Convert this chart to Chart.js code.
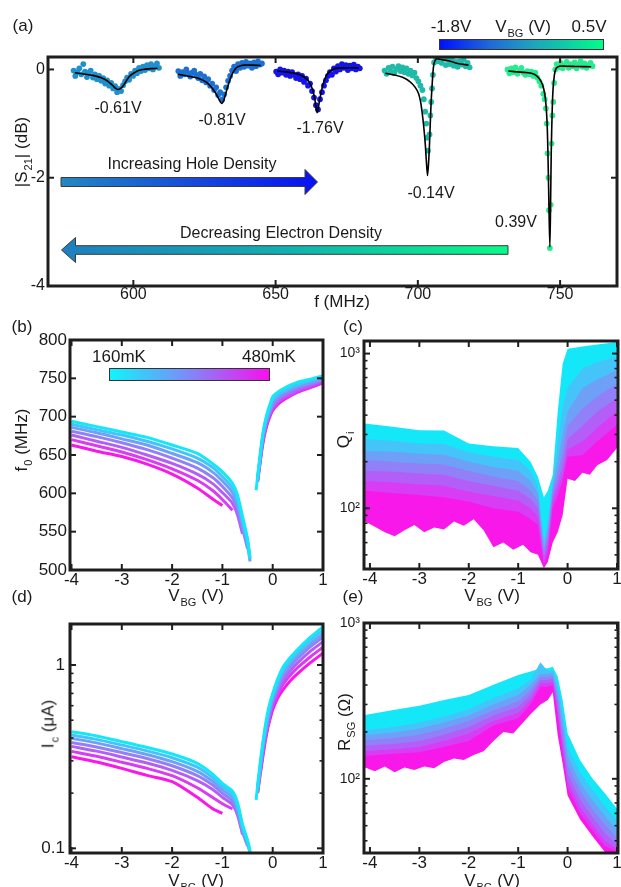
<!DOCTYPE html>
<html>
<head>
<meta charset="utf-8">
<script src="https://cdn.jsdelivr.net/npm/chart.js@4.4.1/dist/chart.umd.min.js"></script>
<style>
  html, body { margin: 0; padding: 0; background: #fff; }
  body { width: 621px; height: 887px; position: relative; overflow: hidden;
         font-family: 'Liberation Sans', Arial, sans-serif; color: #1a1a1a; }
  canvas.layer { position: absolute; left: 0; top: 0; }
  .t { position: absolute; white-space: nowrap; font-size: 17px; line-height: 1;
       transform: translate(-50%, -50%); }
  .rot { transform: translate(-50%, -50%) rotate(-90deg); }
  .sb { font-size: 11px; position: relative; top: 5px; margin-left: 1px; }
  .bar { position: absolute; box-sizing: border-box; border: 1px solid #333; }
</style>
</head>
<body>
<canvas id="pa" class="layer" width="621" height="887"></canvas>
<canvas id="pb" class="layer" width="621" height="887"></canvas>
<canvas id="pc" class="layer" width="621" height="887"></canvas>
<canvas id="pd" class="layer" width="621" height="887"></canvas>
<canvas id="pe" class="layer" width="621" height="887"></canvas>

<!-- colour bars -->
<div class="bar" style="left:439px;top:39px;width:165px;height:11px;
  background:linear-gradient(to right,#0010ff 0%,#2068d8 30%,#1f9fbf 55%,#10c8a8 75%,#00ff88 100%);"></div>
<div class="bar" style="left:109px;top:368px;width:161px;height:13px;
  background:linear-gradient(to right,#10f4fa 0%,#8088f8 50%,#f810ee 100%);"></div>

<!-- panel letters -->
<div class="t" style="left:23px;top:25px">(a)</div>
<div class="t" style="left:22px;top:326px">(b)</div>
<div class="t" style="left:353px;top:326px">(c)</div>
<div class="t" style="left:22px;top:596px">(d)</div>
<div class="t" style="left:353px;top:596px">(e)</div>

<!-- panel (a) annotations -->
<div class="t" style="left:451px;top:26px">-1.8V</div>
<div class="t" style="left:523px;top:26px">V<span class="sb">BG</span> (V)</div>
<div class="t" style="left:589px;top:26px">0.5V</div>
<div class="t" style="left:118px;top:108px;font-size:16px">-0.61V</div>
<div class="t" style="left:222px;top:120px;font-size:16px">-0.81V</div>
<div class="t" style="left:320px;top:128px;font-size:16px">-1.76V</div>
<div class="t" style="left:431px;top:193px;font-size:16px">-0.14V</div>
<div class="t" style="left:516px;top:222px;font-size:16px">0.39V</div>
<div class="t" style="left:192px;top:164px;font-size:16px">Increasing Hole Density</div>
<div class="t" style="left:281px;top:233px;font-size:16px">Decreasing Electron Density</div>
<div class="t rot" style="left:21px;top:152px">|S<span class="sb">21</span>| (dB)</div>
<div class="t" style="left:342px;top:301px">f (MHz)</div>

<!-- axis titles (b)-(e) -->
<div class="t rot" style="left:21px;top:440px">f<span class="sb">0</span> (MHz)</div>
<div class="t" style="left:196px;top:595px">V<span class="sb">BG</span> (V)</div>
<div class="t" style="left:119px;top:356px">160mK</div>
<div class="t" style="left:269px;top:356px">480mK</div>
<div class="t rot" style="left:343px;top:440px">Q<span class="sb">i</span></div>
<div class="t" style="left:492px;top:595px">V<span class="sb">BG</span> (V)</div>
<div class="t rot" style="left:48px;top:724px">I<span class="sb">c</span> (μA)</div>
<div class="t" style="left:196px;top:880px">V<span class="sb">BG</span> (V)</div>
<div class="t rot" style="left:344px;top:722px">R<span class="sb">SG</span> (Ω)</div>
<div class="t" style="left:492px;top:880px">V<span class="sb">BG</span> (V)</div>

<script>
// ---------- tick values ----------
const fTicks = [600, 650, 700, 750];
const s21Ticks = [-4, -2, 0];
const vTicks = [-4, -3, -2, -1, 0, 1];
const f0Ticks = [500, 550, 600, 650, 700, 750, 800];
const qTicks = [100, 1000];
const icTicks = [0.1, 1];
const rTicks = [100, 1000];

// ---------- (a) transmission dips, [f (MHz), |S21| (dB)] ----------
const dipLabels = ['-0.61V', '-0.81V', '-1.76V', '-0.14V', '0.39V'];
const dipPts061 = [[579,-0.02],[579.6,-0.12],[580.3,-0.05],[581,0.02],[581.7,-0.09],[582.4,0.1],[583,-0.04],[583.7,-0.14],[584.4,-0.06],[585,-0.02],[585.8,-0.15],[586.5,-0.09],[587.2,-0.18],[588,-0.12],[588.7,-0.21],[589.4,-0.16],[590.1,-0.26],[590.8,-0.2],[591.5,-0.3],[592.2,-0.25],[592.9,-0.35],[593.6,-0.31],[594.3,-0.42],[595,-0.36],[595.7,-0.4],[596.4,-0.29],[597.1,-0.22],[597.8,-0.15],[598.5,-0.19],[599.2,-0.08],[599.9,-0.12],[600.6,-0.02],[601.3,-0.07],[602,0.03],[602.7,-0.03],[603.4,0.05],[604.1,-0.01],[604.8,0.08],[605.5,0.02],[606.2,0.1],[606.9,0.0],[607.6,0.06],[608.3,0.11],[609,0.03]];
const dipFit061 = [[579.4,-0.06],[582,-0.08],[585.8,-0.11],[588.5,-0.15],[590.5,-0.2],[592,-0.26],[592.8,-0.3],[593.8,-0.35],[594.5,-0.37],[595.3,-0.36],[596.3,-0.31],[597.2,-0.24],[598,-0.17],[599,-0.11],[600.4,-0.06],[601.8,-0.02],[603.3,0.0],[606,0.015],[608.5,0.02]];
const dipPts081 = [[615.8,-0.03],[616.5,-0.12],[617.2,-0.05],[617.9,-0.09],[618.6,0.0],[619.3,-0.07],[620,-0.13],[620.7,-0.06],[621.4,-0.02],[622.1,-0.1],[622.8,-0.16],[623.5,-0.08],[624.2,-0.2],[624.9,-0.13],[625.6,-0.24],[626.3,-0.18],[627,-0.3],[627.7,-0.26],[628.4,-0.38],[629.1,-0.33],[629.8,-0.47],[630.5,-0.42],[631.2,-0.56],[631.9,-0.46],[632.6,-0.33],[633.3,-0.21],[634,-0.12],[634.7,-0.02],[635.4,0.05],[636.1,-0.03],[636.8,0.1],[637.5,0.03],[638.2,0.12],[638.9,0.05],[639.6,0.14],[640.3,0.07],[641,0.11],[641.7,0.03],[642.4,0.13],[643.1,0.06],[643.8,0.15],[644.5,0.09],[645.2,0.11]];
const dipFit081 = [[615.6,-0.09],[619,-0.12],[623.2,-0.17],[625.5,-0.23],[627.3,-0.32],[628.6,-0.41],[629.6,-0.5],[630.5,-0.59],[631.1,-0.63],[631.8,-0.57],[632.5,-0.44],[633.4,-0.28],[634.3,-0.14],[635.1,-0.05],[636,0.02],[637.2,0.06],[638.9,0.08],[641.5,0.08],[644.8,0.074]];
const dipPts176 = [[650.2,-0.04],[650.9,-0.09],[651.6,0.0],[652.3,-0.06],[653,-0.02],[653.7,-0.1],[654.4,-0.04],[655.1,-0.12],[655.8,-0.05],[656.5,-0.1],[657.2,-0.16],[657.9,-0.09],[658.6,-0.18],[659.3,-0.12],[660,-0.23],[660.7,-0.17],[661.4,-0.3],[662.1,-0.26],[662.8,-0.4],[663.5,-0.52],[664.2,-0.66],[664.9,-0.74],[665.6,-0.55],[666.3,-0.42],[667,-0.3],[667.7,-0.2],[668.4,-0.12],[669.1,-0.05],[669.8,-0.1],[670.5,0.02],[671.2,-0.04],[671.9,0.06],[672.6,0.0],[673.3,0.1],[674,0.03],[674.7,0.08],[675.4,-0.01],[676.1,0.07],[676.8,0.02],[677.5,0.09],[678.2,0.0],[678.9,0.05],[679.6,0.02]];
const dipFit176 = [[650.6,-0.03],[653,-0.04],[655.5,-0.06],[658,-0.09],[660,-0.14],[661.5,-0.21],[662.5,-0.3],[663.4,-0.45],[664,-0.62],[664.6,-0.8],[665.3,-0.62],[666.1,-0.4],[667,-0.22],[668,-0.1],[669.2,-0.03],[671,0.02],[674,0.03],[679.2,0.03]];
const dipPts014 = [[688.3,-0.02],[689,-0.08],[689.7,0.03],[690.4,-0.04],[691.1,0.05],[691.8,-0.06],[692.5,0.01],[693.2,0.06],[693.9,-0.03],[694.6,0.04],[695.3,-0.05],[696,0.02],[696.7,-0.08],[697.4,-0.02],[698.1,-0.11],[698.8,-0.06],[699.5,-0.16],[700.2,-0.22],[700.9,-0.3],[701.6,-0.38],[702.1,-0.55],[702.6,-0.78],[703,-1.0],[703.3,-1.26],[703.6,-1.5],[704.1,-1.2],[704.4,-0.85],[704.7,-0.6],[705,-0.35],[705.3,-0.1],[705.7,0.13],[706.3,0.22],[707,0.15],[707.7,0.25],[708.4,0.12],[709.1,0.2],[709.8,0.08],[710.5,0.18],[711.2,0.1],[711.9,0.2],[712.6,0.07],[713.3,0.14],[714,0.05],[714.7,0.15],[715.4,0.09],[716.1,0.18],[716.8,0.06],[717.5,0.12],[718.2,0.04]];
const dipFit014 = [[688.6,-0.07],[691.5,-0.1],[694.4,-0.14],[696.3,-0.19],[697.9,-0.26],[699.2,-0.34],[700.2,-0.44],[700.9,-0.58],[701.4,-0.75],[702,-1.02],[702.6,-1.37],[703,-1.7],[703.4,-1.96],[703.8,-1.7],[704.1,-1.37],[704.4,-0.95],[704.7,-0.57],[705.1,-0.22],[705.5,0.05],[706,0.16],[706.7,0.2],[708.5,0.18],[710.8,0.16],[714,0.11],[717.8,0.08]];
const dipPts039 = [[731.5,0.0],[732.2,-0.07],[732.9,0.02],[733.6,-0.05],[734.3,0.04],[735,-0.08],[735.7,-0.02],[736.4,0.03],[737.1,-0.06],[737.8,-0.1],[738.5,-0.03],[739.2,-0.09],[739.9,-0.04],[740.6,-0.12],[741.3,-0.06],[742,-0.15],[742.7,-0.22],[743.4,-0.3],[744.1,-0.45],[744.6,-0.55],[745,-0.72],[745.3,-1.0],[745.6,-1.55],[745.9,-2.0],[746.1,-2.6],[746.4,-3.3],[746.7,-2.5],[747,-1.37],[747.3,-0.85],[747.6,-0.6],[747.9,-0.25],[748.3,0.0],[748.8,0.1],[749.5,0.04],[750.2,0.12],[750.9,0.02],[751.6,0.08],[752.3,0.14],[753,0.03],[753.7,0.1],[754.4,0.06],[755.1,0.13],[755.8,0.02],[756.5,0.09],[757.2,0.15],[757.9,0.05],[758.6,0.11],[759.3,0.03],[760,0.08],[760.7,0.12],[761.4,0.06]];
const dipFit039 = [[731.8,-0.03],[736,-0.05],[739.9,-0.07],[741.8,-0.12],[743.4,-0.23],[744.3,-0.37],[744.9,-0.57],[745.4,-0.95],[745.7,-1.49],[746,-2.3],[746.4,-3.28],[746.7,-2.3],[746.9,-1.49],[747.2,-0.8],[747.5,-0.38],[748,-0.1],[748.6,0.02],[749.8,0.06],[752,0.06],[756,0.055],[760.9,0.05]];

// ---------- (b),(d) resonance frequency and critical current vs gate ----------
const temps = ['160mK', '213mK', '267mK', '320mK', '373mK', '427mK', '480mK'];
const vHole = [-4, -3.5, -3, -2.5, -2, -1.5, -1.2, -1, -0.8, -0.7, -0.6, -0.5, -0.45];
const vElec = [-0.33, -0.3, -0.25, -0.2, -0.15, -0.1, -0.05, 0, 0.1, 0.2, 0.35, 0.5, 0.75, 1.0];
const f0Hole = [
  [694, 687, 680, 673, 663, 652, 639, 628, 613, 598, 570, 541, 516],
  [690, 683, 676, 668, 658, 646, 634, 622, 607, 592, 565, 537, 514],
  [686, 679, 671, 663, 652, 640, 628, 616, 601, 586, 560, 532, 511],
  [681, 674, 666, 657, 646, 633, 621, 609, 594, 580, 554, 528, null],
  [676, 668, 660, 650, 639, 625, 613, 601, 587, 572, 547, null, null],
  [670, 662, 654, 644, 632, 617, 604, 592, 578, null, null, null, null],
  [663, 655, 648, 638, 625, 607, 593, 584, null, null, null, null, null]
];
const f0Elec = [
  [604, 622, 650, 676, 694, 707, 717, 726, 732, 736, 741, 745, 749, 753],
  [null, 620, 648, 674, 692, 704, 713, 722, 729, 733, 738, 742, 747, 751],
  [null, 619, 646, 672, 689, 701, 710, 719, 726, 731, 736, 740, 745, 750],
  [null, 618, 645, 670, 687, 698, 707, 715, 723, 728, 733, 738, 743, 748],
  [null, 617, 643, 668, 685, 696, 705, 712, 720, 725, 730, 735, 741, 747],
  [null, 616, 642, 666, 682, 694, 703, 710, 718, 723, 728, 733, 739, 745],
  [null, 615, 640, 663, 680, 692, 701, 708, 716, 721, 727, 732, 738, 744]
];
const icHole = [
  [0.433, 0.41, 0.382, 0.355, 0.327, 0.291, 0.255, 0.226, 0.205, 0.178, 0.135, 0.111, 0.097],
  [0.415, 0.393, 0.366, 0.34, 0.312, 0.277, 0.244, 0.218, 0.197, 0.171, 0.131, 0.108, 0.096],
  [0.398, 0.376, 0.35, 0.325, 0.297, 0.263, 0.233, 0.209, 0.189, 0.165, 0.127, 0.105, 0.095],
  [0.378, 0.357, 0.333, 0.309, 0.282, 0.249, 0.222, 0.2, 0.181, 0.158, 0.123, 0.103, null],
  [0.36, 0.339, 0.315, 0.292, 0.266, 0.234, 0.21, 0.19, 0.173, 0.152, 0.119, null, null],
  [0.338, 0.318, 0.295, 0.273, 0.249, 0.214, 0.19, 0.175, 0.164, null, null, null, null],
  [0.316, 0.296, 0.273, 0.25, 0.231, 0.19, 0.165, 0.155, null, null, null, null, null]
];
const icElec = [
  [0.184, 0.22, 0.29, 0.37, 0.46, 0.55, 0.63, 0.70, 0.84, 0.97, 1.1, 1.22, 1.42, 1.62],
  [null, 0.215, 0.28, 0.36, 0.445, 0.53, 0.61, 0.68, 0.81, 0.93, 1.06, 1.18, 1.37, 1.55],
  [null, 0.212, 0.275, 0.35, 0.43, 0.51, 0.59, 0.66, 0.78, 0.89, 1.02, 1.13, 1.31, 1.48],
  [null, 0.21, 0.27, 0.34, 0.415, 0.495, 0.57, 0.64, 0.75, 0.86, 0.98, 1.09, 1.26, 1.42],
  [null, 0.207, 0.265, 0.33, 0.4, 0.475, 0.55, 0.62, 0.72, 0.82, 0.93, 1.03, 1.19, 1.34],
  [null, 0.203, 0.258, 0.32, 0.39, 0.46, 0.53, 0.595, 0.69, 0.78, 0.88, 0.97, 1.11, 1.25],
  [null, 0.2, 0.25, 0.31, 0.38, 0.45, 0.51, 0.57, 0.66, 0.73, 0.82, 0.9, 1.03, 1.16]
];

// ---------- (c) internal quality factor: upper envelope per temperature ----------
const vQ = [-4.1, -3.5, -3, -2.5, -2, -1.5, -1, -0.75, -0.6, -0.48, -0.4, -0.3, -0.2, -0.1, 0, 0.3, 0.6, 1.02];
const qUpper = [
  [353, 335, 320, 318, 262, 252, 245, 200, 160, 118, 130, 165, 420, 860, 1076, 1110, 1145, 1190],
  [280, 272, 262, 260, 230, 215, 205, 175, 140, 62, 85, 150, 260, 450, 600, 800, 880, 960],
  [235, 232, 225, 222, 200, 185, 175, 150, 125, 57, 75, 140, 200, 300, 420, 600, 680, 790],
  [205, 200, 195, 192, 175, 160, 150, 130, 112, 53, 68, 130, 170, 230, 340, 440, 530, 640],
  [175, 172, 168, 165, 150, 140, 130, 115, 100, 49, 62, 120, 150, 190, 280, 340, 420, 520],
  [150, 147, 143, 140, 128, 120, 112, 100, 88, 46, 57, 110, 135, 165, 240, 270, 330, 430],
  [130, 125, 122, 118, 110, 100, 95, 85, 78, 43, 52, 100, 120, 150, 215, 220, 270, 350]
];
// lowest error-bar edge of the hottest trace
const vQFloor = [-4.1, -3.9, -3.7, -3.5, -3.3, -3.1, -2.9, -2.7, -2.5, -2.3, -2.1, -1.9, -1.7, -1.5, -1.3, -1.1, -0.9, -0.75, -0.6, -0.48, -0.4, -0.3, -0.2, -0.1, 0, 0.15, 0.3, 0.45, 0.6, 0.8, 1.02];
const qFloor = [82, 76, 70, 66, 72, 78, 70, 75, 73, 82, 77, 85, 72, 56, 60, 54, 58, 52, 50, 41, 45, 60, 70, 90, 155, 150, 170, 165, 190, 205, 250];

// ---------- (e) resistance: upper envelope per temperature ----------
const vR = [-4.1, -3.5, -3, -2.5, -2, -1.5, -1, -0.75, -0.55, -0.4, -0.3, -0.2, -0.1, 0, 0.25, 0.5, 0.75, 1.02];
const rUpper = [
  [257, 277, 294, 321, 345, 401, 464, 488, 510, 513, 524, 453, 321, 196, 132, 101, 81, 63],
  [205, 215, 230, 250, 280, 330, 380, 430, 560, 490, 500, 400, 270, 160, 110, 85, 67, 53],
  [190, 198, 210, 230, 255, 300, 345, 400, 470, 470, 480, 360, 235, 140, 95, 73, 58, 46],
  [177, 183, 192, 210, 235, 275, 315, 370, 450, 450, 460, 330, 205, 122, 84, 64, 51, 41],
  [163, 168, 175, 192, 215, 255, 290, 345, 430, 430, 440, 300, 180, 108, 74, 57, 45, 37],
  [150, 155, 160, 175, 195, 235, 265, 320, 410, 410, 420, 275, 160, 96, 66, 51, 40, 35],
  [140, 145, 148, 160, 175, 220, 245, 300, 390, 390, 400, 255, 145, 88, 60, 47, 37, 34]
];
const vRFloor = [-4.1, -3.9, -3.7, -3.5, -3.3, -3.1, -2.9, -2.7, -2.5, -2.3, -2.1, -1.9, -1.7, -1.5, -1.3, -1.1, -0.9, -0.75, -0.55, -0.4, -0.3, -0.2, -0.1, 0, 0.25, 0.5, 0.75, 1.02];
const rFloor = [118, 112, 120, 110, 118, 114, 120, 117, 128, 135, 132, 142, 150, 175, 200, 195, 230, 260, 300, 320, 360, 190, 125, 78, 55, 43, 34, 32];

// ---------- styling ----------
const tempColors = ['#14e8f8', '#44c4f8', '#6ea0f8', '#9280f8', '#b45ef8', '#d83cf4', '#f818ea'];
const dipColors = ['#2090cc', '#1c70d2', '#1414ea', '#20baa8', '#28ea90'];
const INK = '#1e1e1e';

Chart.defaults.font.family = "'Liberation Sans', Arial, sans-serif";
Chart.defaults.color = '#1a1a1a';
Chart.defaults.animation = false;

const PAGE_W = 621, PAGE_H = 887, YW = 40, XH = 20;

// frame with inward ticks on all four sides
const framePlugin = {
  id: 'frame',
  afterDraw(chart, args, o) {
    const { ctx, chartArea: a, scales: { x, y } } = chart;
    ctx.save();
    ctx.strokeStyle = INK;
    const seg = (x1, y1, x2, y2) => { ctx.beginPath(); ctx.moveTo(x1, y1); ctx.lineTo(x2, y2); ctx.stroke(); };
    const xt = (vals, len) => vals.forEach(v => {
      const p = x.getPixelForValue(v);
      if (p < a.left - 0.5 || p > a.right + 0.5) return;
      seg(p, a.bottom, p, a.bottom - len); seg(p, a.top, p, a.top + len);
    });
    const yt = (vals, len) => vals.forEach(v => {
      const p = y.getPixelForValue(v);
      if (p < a.top - 0.5 || p > a.bottom + 0.5) return;
      seg(a.left, p, a.left + len, p); seg(a.right, p, a.right - len, p);
    });
    ctx.lineWidth = 2;
    xt(o.xMajor || [], 6);
    yt(o.yMajor || [], 6);
    ctx.lineWidth = 1.6;
    yt(o.yMinor || [], 3.5);
    ctx.lineWidth = 3;
    ctx.strokeRect(a.left, a.top, a.right - a.left, a.bottom - a.top);
    ctx.restore();
  }
};

function xAxis(min, max, ticks, size, pad) {
  return {
    type: 'linear', position: 'bottom', min, max, bounds: 'data',
    afterBuildTicks: s => { s.ticks = ticks.map(v => ({ value: v })); },
    afterFit: s => { s.height = XH; s.paddingLeft = 0; s.paddingRight = 0; },
    grid: { display: false, drawTicks: false }, border: { display: false },
    ticks: { font: { size }, padding: pad, maxRotation: 0, minRotation: 0, autoSkip: false,
             color: '#1a1a1a', callback: v => String(v) }
  };
}
function yAxis(type, min, max, ticks, size, pad, fmt) {
  return {
    type, position: 'left', min, max, bounds: 'data',
    afterBuildTicks: s => { s.ticks = ticks.map(v => ({ value: v })); },
    afterFit: s => { s.width = YW; s.paddingTop = 0; s.paddingBottom = 0; },
    grid: { display: false, drawTicks: false }, border: { display: false },
    ticks: { font: { size }, padding: pad, autoSkip: false, color: '#1a1a1a', callback: fmt }
  };
}
function logMinor(lo, hi) {
  const out = [];
  for (let d = 0.01; d < 1e5; d *= 10)
    for (let m = 2; m <= 9; m++) { const v = +(m * d).toPrecision(3); if (v > lo && v < hi) out.push(v); }
  return out;
}
function makeChart(id, box, scales, datasets, frameOpts, extraPlugins) {
  return new Chart(document.getElementById(id), {
    type: 'scatter',
    data: { datasets },
    options: {
      responsive: false, devicePixelRatio: 1, animation: false,
      layout: { padding: { left: box.l - YW, top: box.t, right: PAGE_W - box.r, bottom: PAGE_H - box.b - XH } },
      scales,
      plugins: { legend: { display: false }, tooltip: { enabled: false }, frame: frameOpts },
      events: []
    },
    plugins: [framePlugin].concat(extraPlugins || [])
  });
}
const toXY = (xs, ys) => xs.map((x, i) => ({ x, y: ys[i] })).filter(p => p.y !== null);
const pairXY = arr => arr.map(([x, y]) => ({ x, y }));

// ---------- (a) gradient arrows ----------
const arrowPlugin = {
  id: 'arrows',
  afterDatasetsDraw(chart) {
    const ctx = chart.ctx;
    ctx.save();
    // right-pointing arrow
    let g = ctx.createLinearGradient(61, 0, 318, 0);
    g.addColorStop(0, '#2388c2'); g.addColorStop(1, '#0810f2');
    ctx.beginPath();
    ctx.moveTo(61, 177.5); ctx.lineTo(305, 177.5); ctx.lineTo(305, 169.5); ctx.lineTo(317.5, 182);
    ctx.lineTo(305, 194.5); ctx.lineTo(305, 186.5); ctx.lineTo(61, 186.5); ctx.closePath();
    ctx.fillStyle = g; ctx.fill(); ctx.lineWidth = 1; ctx.strokeStyle = '#3a3a3a'; ctx.stroke();
    // left-pointing arrow
    g = ctx.createLinearGradient(61, 0, 508, 0);
    g.addColorStop(0, '#1f7ec0'); g.addColorStop(0.5, '#10b0b0'); g.addColorStop(1, '#08fa88');
    ctx.beginPath();
    ctx.moveTo(61.5, 250); ctx.lineTo(75.5, 237.5); ctx.lineTo(75.5, 245.7); ctx.lineTo(508, 245.7);
    ctx.lineTo(508, 254.3); ctx.lineTo(75.5, 254.3); ctx.lineTo(75.5, 262.5); ctx.closePath();
    ctx.fillStyle = g; ctx.fill(); ctx.stroke();
    ctx.restore();
  }
};

// ---------- panel (a) ----------
(function () {
  const pts = [dipPts061, dipPts081, dipPts176, dipPts014, dipPts039];
  const fits = [dipFit061, dipFit081, dipFit176, dipFit014, dipFit039];
  const ds = [];
  fits.forEach(f => ds.push({ label: 'fit', data: pairXY(f), showLine: true, borderColor: '#000',
    borderWidth: 1.6, pointRadius: 0, tension: 0.3, order: 0 }));
  pts.forEach((p, i) => ds.push({ label: dipLabels[i], data: pairXY(p), pointRadius: 2.9,
    pointBackgroundColor: dipColors[i], pointBorderWidth: 0, order: 1 }));
  makeChart('pa', { l: 48, t: 57, r: 618, b: 286 },
    { x: xAxis(570, 770, fTicks, 16, -1),
      y: yAxis('linear', -4, 0.23, s21Ticks, 16, 3, v => String(v)) },
    ds, { xMajor: fTicks, yMajor: s21Ticks }, [arrowPlugin]);
})();

// ---------- panels (b) and (d): lines per temperature ----------
function branchSets(hole, elec) {
  const ds = [];
  temps.forEach((t, k) => {
    [[vHole, hole[k]], [vElec, elec[k]]].forEach(([xs, ys]) => ds.push({
      label: t, data: toXY(xs, ys), showLine: true, borderColor: tempColors[k],
      borderWidth: 3, pointRadius: 0, tension: 0.25, order: k
    }));
  });
  return ds;
}
makeChart('pb', { l: 70, t: 340, r: 323, b: 570 },
  { x: xAxis(-4.03, 1.0, vTicks, 17, 0),
    y: yAxis('linear', 500, 800, f0Ticks, 17, 3, v => String(v)) },
  branchSets(f0Hole, f0Elec), { xMajor: vTicks, yMajor: f0Ticks });

makeChart('pd', { l: 70, t: 624, r: 323, b: 853 },
  { x: xAxis(-4.03, 1.0, vTicks, 17, 0),
    y: yAxis('logarithmic', 0.0943, 1.674, icTicks, 17, 5, v => String(v)) },
  branchSets(icHole, icElec), { xMajor: vTicks, yMajor: icTicks, yMinor: logMinor(0.0943, 1.674) });

// ---------- panels (c) and (e): stacked envelopes per temperature ----------
function bandSets(xs, uppers, floorX, floorY) {
  const ds = uppers.map((u, k) => ({
    label: temps[k], data: toXY(xs, u), showLine: true, borderWidth: 0, pointRadius: 0,
    backgroundColor: tempColors[k], borderColor: tempColors[k], fill: 'start', order: 20 - k
  }));
  ds.push({ label: 'floor', data: toXY(floorX, floorY), showLine: true, borderWidth: 0, pointRadius: 0,
    backgroundColor: '#ffffff', borderColor: '#ffffff', fill: 'start', order: 0 });
  return ds;
}
const supLabel = v => (v === 100 ? '10²' : v === 1000 ? '10³' : '');
makeChart('pc', { l: 364, t: 341, r: 618, b: 569 },
  { x: xAxis(-4.12, 1.02, vTicks, 17, 0),
    y: yAxis('logarithmic', 40.5, 1206, qTicks, 14, 4, supLabel) },
  bandSets(vQ, qUpper, vQFloor, qFloor), { xMajor: vTicks, yMajor: qTicks, yMinor: logMinor(40.5, 1206) });

makeChart('pe', { l: 364, t: 623, r: 618, b: 853 },
  { x: xAxis(-4.12, 1.02, vTicks, 17, 0),
    y: yAxis('logarithmic', 33.4, 1000, rTicks, 14, 4, supLabel) },
  bandSets(vR, rUpper, vRFloor, rFloor), { xMajor: vTicks, yMajor: rTicks, yMinor: logMinor(33.4, 1000) });
</script>
</body>
</html>
